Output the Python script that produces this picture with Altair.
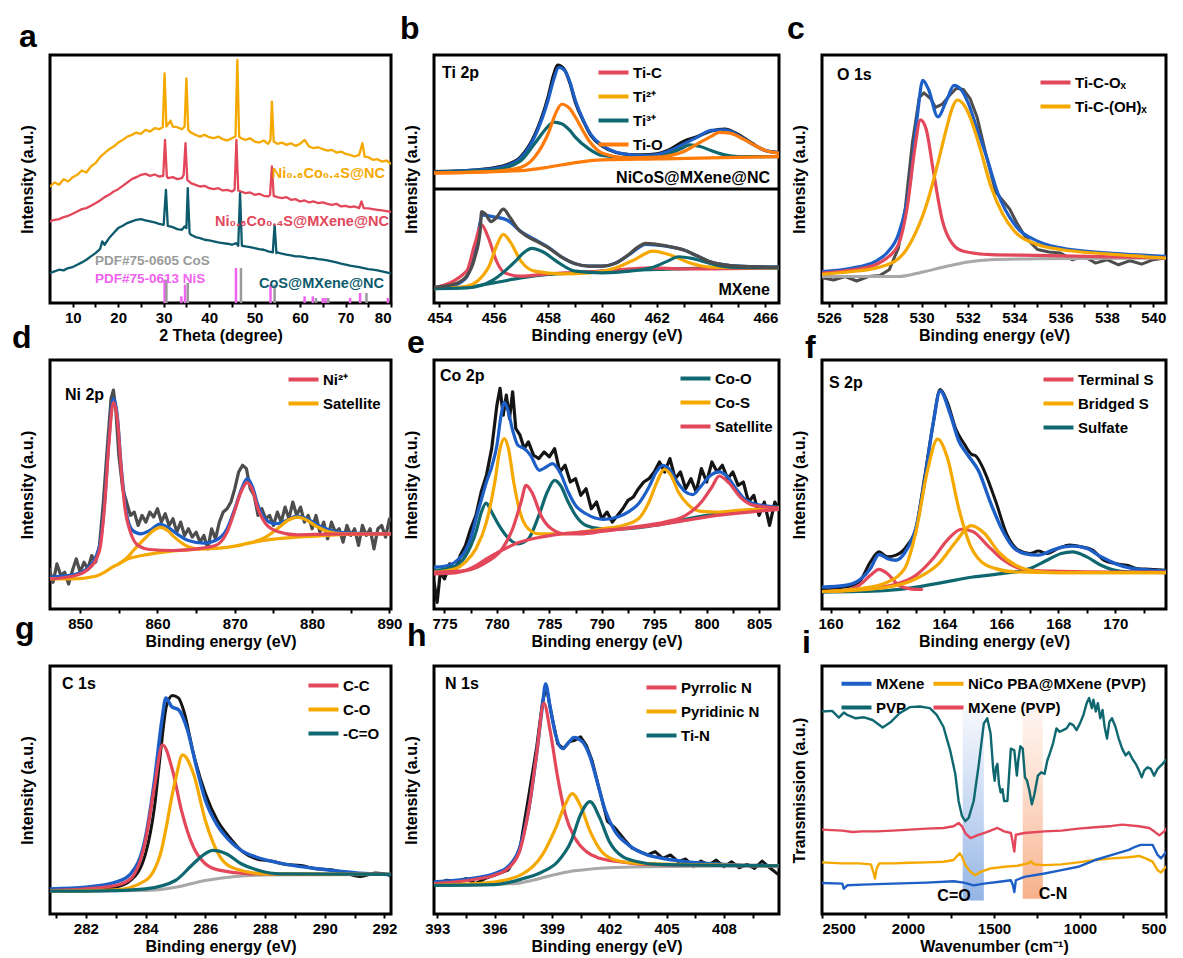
import altair as alt
import pandas as pd

FONT = "Liberation Sans"
RED = "#e2475a"
YEL = "#f5a800"
TEAL = "#0f6870"
ATEAL = "#0c5a6c"
BLUE = "#1d5fc6"
ORNG = "#ff7b0a"
DGRAY = "#4d4d4d"
INK = "#141414"
LGRAY = "#a8a8a8"
SGRAY = "#9a9a9a"
MAG = "#f062f0"

# ---------------- a : XRD (intensity in a.u., 0 = frame floor) ----------------
A_NC_X = [5, 6, 7, 8, 9, 10, 11, 12, 13, 14, 15, 16, 17, 18, 19, 20, 21, 22, 23, 24, 25, 26, 27, 28, 29,
          29.8, 30.2, 30.6, 31.5, 32, 33, 34, 34.6, 35.0, 35.4, 36, 37, 38, 39, 40, 41, 42, 43, 44, 45,
          45.8, 46.2, 46.6, 47, 48, 49, 50, 51, 52, 53, 53.5, 53.8, 54.2, 55, 56, 57, 58, 59, 60, 61, 62,
          63, 64, 65, 66, 67, 68, 69, 70, 71, 72, 73, 73.7, 74.2, 75, 76, 77, 78, 79, 80]
A_NC_Y = [350, 362, 355, 372, 365, 378, 385, 398, 392, 410, 420, 438, 450, 462, 470, 482, 490, 500, 505, 512, 508, 520, 515, 525, 522,
          528, 690, 530, 548, 530, 528, 522, 530, 675, 520, 512, 505, 500, 505, 498, 495, 500, 492, 488, 495,
          500, 730, 500, 495, 490, 495, 485, 482, 488, 478, 490, 605, 485, 478, 482, 475, 480, 472, 478, 490, 470,
          465, 468, 462, 458, 460, 452, 455, 448, 445, 440, 445, 480, 440, 438, 430, 432, 425, 428, 418]
A_MX_X = [5, 6, 7, 8, 9, 10, 11, 12, 13, 14, 15, 16, 17, 18, 19, 20, 21, 22, 23, 24, 25, 26, 27, 28, 29,
          29.9, 30.3, 30.7, 31, 32, 33, 34, 34.4, 34.8, 35.2, 36, 37, 38, 39, 40, 41, 42, 43, 44, 45,
          45.6, 46.0, 46.4, 47, 48, 49, 50, 51, 52, 53, 53.4, 53.8, 54.2, 55, 56, 57, 58, 59, 60, 61, 62,
          63, 64, 65, 66, 67, 68, 69, 70, 71, 72, 73, 73.5, 74, 75, 76, 77, 78, 79, 80]
A_MX_Y = [245, 250, 252, 258, 262, 268, 275, 282, 285, 292, 300, 308, 318, 325, 335, 342, 352, 362, 372, 378, 385, 388, 382, 386, 380,
          382, 490, 380, 375, 378, 372, 375, 385, 480, 370, 360, 355, 350, 352, 345, 342, 345, 338, 340, 335,
          340, 490, 338, 335, 330, 332, 325, 328, 322, 320, 325, 410, 322, 318, 315, 318, 310, 312, 305, 308, 302,
          305, 300, 302, 298, 295, 298, 290, 292, 288, 290, 285, 305, 285, 284, 282, 280, 278, 276, 274]
A_CO_X = [5, 6, 7, 8, 9, 10, 11, 12, 13, 14, 15, 16, 16.5, 17, 18, 19, 20, 21, 22, 23, 24, 25, 26, 27, 28, 29, 30,
          30.5, 30.9, 32, 33, 34, 34.6, 35.0, 35.3, 35.7, 36, 37, 38, 39, 40, 41, 42, 43, 44, 45, 46,
          46.4, 46.8, 47.2, 48, 49, 50, 51, 52, 53, 54, 54.4, 54.8, 55, 56, 57, 58, 59, 60, 61, 62, 63, 64,
          65, 66, 67, 68, 69, 70, 71, 72, 73, 74, 75, 76, 77, 78, 79, 80]
A_CO_Y = [90, 95, 100, 98, 105, 108, 115, 122, 130, 140, 150, 162, 185, 175, 195, 210, 225, 232, 240, 245, 250, 252, 248, 245, 242, 238, 235,
          340, 232, 228, 222, 220, 230, 225, 345, 210, 205, 198, 195, 190, 188, 185, 182, 180, 178, 175, 180,
          172, 330, 172, 170, 168, 165, 162, 160, 155, 152, 235, 150, 152, 148, 145, 143, 140, 140, 138, 135, 135, 132,
          130, 128, 125, 122, 118, 115, 112, 110, 108, 105, 102, 100, 98, 95, 92, 88]
COS_X = [30.6, 35.3, 47.0, 54.4, 63.5, 66.2, 74.6]
COS_H = [70, 60, 105, 55, 15, 15, 30]
NIS_X = [30.2, 33.9, 34.7, 45.9, 53.5, 61.0, 62.8, 65.0, 65.6, 71.0, 73.2, 79.3]
NIS_H = [70, 20, 55, 105, 55, 20, 20, 15, 15, 15, 30, 15]

# ---------------- b : Ti 2p (readings taken downward, floor 895) ----------------
B_FLOOR = 895
B_DIV = 340
BU_ENV_X = [453.8, 455, 456, 456.5, 457, 457.5, 458, 458.2, 458.4, 458.6, 458.8, 459, 459.3, 459.6, 460, 460.5, 461, 461.5, 462, 462.5, 463, 463.5, 464, 464.5, 465, 465.5, 466, 466.5]
BU_ENV_R = [505, 500, 494, 485, 462, 400, 290, 230, 192, 200, 235, 290, 350, 395, 425, 445, 452, 455, 452, 440, 420, 400, 380, 378, 395, 420, 440, 447]
BU_RAW_X = [453.8, 455, 456, 456.5, 457, 457.5, 458, 458.2, 458.35, 458.6, 458.8, 459, 459.3, 459.6, 460, 460.5, 461, 461.5, 462, 462.5, 463, 463.5, 464, 464.5, 465, 465.5, 466, 466.5]
BU_RAW_R = [503, 500, 492, 482, 458, 395, 280, 215, 185, 198, 238, 295, 352, 398, 427, 446, 452, 453, 450, 436, 412, 398, 382, 376, 392, 418, 440, 446]
BU_TI3_X = [453.8, 456, 457, 457.5, 458, 458.2, 458.5, 458.8, 459, 459.5, 460, 461, 462, 462.5, 463, 463.2, 463.6, 464, 464.5, 465, 466.5]
BU_TI3_R = [505, 498, 470, 420, 368, 355, 360, 380, 400, 435, 455, 462, 460, 448, 430, 423, 428, 440, 453, 458, 458]
BU_TIO_X = [453.8, 456, 457, 457.5, 458, 458.3, 458.5, 458.8, 459, 459.5, 460, 461, 462, 463, 463.5, 464, 464.3, 464.7, 465, 465.5, 466, 466.5]
BU_TIO_R = [507, 502, 490, 460, 390, 325, 302, 315, 340, 410, 448, 462, 460, 443, 420, 398, 386, 388, 398, 420, 440, 448]
BU_BASE_X = [453.8, 457, 458, 459, 460, 462, 464, 466.5]
BU_BASE_R = [507, 500, 490, 476, 468, 465, 462, 458]
BL_RAW_X = [453.8, 454.5, 455, 455.3, 455.5, 455.55, 455.7, 455.9, 456.1, 456.35, 456.6, 456.9, 457.2, 457.6, 458, 458.5, 459, 459.5, 460, 460.5, 461, 461.3, 461.6, 462, 462.5, 463, 463.5, 464, 465, 466.5]
BL_RAW_R = [848, 840, 815, 760, 680, 622, 630, 652, 640, 615, 640, 675, 695, 712, 730, 758, 778, 785, 785, 776, 748, 728, 717, 720, 727, 737, 755, 773, 785, 788]
BL_ENV_X = [453.8, 454.5, 455, 455.3, 455.6, 456, 456.5, 457, 457.5, 458, 458.5, 459, 459.5, 460, 460.5, 461, 461.6, 462.3, 463, 463.5, 464, 465, 466.5]
BL_ENV_R = [850, 843, 818, 740, 633, 638, 648, 682, 705, 728, 758, 778, 785, 785, 775, 750, 720, 725, 737, 755, 773, 785, 788]
BL_TIC_X = [453.8, 455, 455.3, 455.55, 455.8, 456.1, 456.4, 457, 458, 460, 461.8, 463, 466.5]
BL_TIC_R = [850, 800, 720, 662, 700, 770, 805, 815, 808, 800, 790, 793, 790]
BL_TI2_X = [453.8, 455, 455.8, 456.1, 456.35, 456.6, 457, 457.5, 458.5, 459.5, 460.5, 461.2, 461.85, 462.5, 463.2, 464, 466.5]
BL_TI2_R = [852, 845, 790, 725, 690, 712, 770, 800, 808, 805, 790, 765, 740, 752, 775, 788, 790]
BL_TI3_X = [453.8, 455, 456, 456.8, 457.1, 457.4, 457.8, 458.3, 459, 460, 461, 461.8, 462.4, 462.8, 463.3, 464, 464.7, 466.5]
BL_TI3_R = [852, 850, 825, 770, 745, 732, 742, 770, 800, 805, 800, 790, 770, 757, 762, 778, 788, 790]
BL_BASE_X = [453.8, 455, 456, 457, 458, 459, 460, 462, 464, 466.5]
BL_BASE_R = [852, 848, 835, 820, 810, 805, 800, 795, 790, 788]

# ---------------- c : O 1s (floor 893) ----------------
C_FLOOR = 893
C_RAW_X = [525.7, 526.2, 526.7, 527.2, 527.7, 528.2, 528.6, 529, 529.3, 529.6, 529.9, 530.1, 530.4, 530.6, 530.9, 531.2, 531.5, 531.8, 532.1, 532.4, 532.8, 533.2, 533.5, 533.8, 534.1, 534.5, 535, 535.5, 536, 536.5, 537, 537.5, 538, 538.5, 539, 539.5, 540, 540.5]
C_RAW_R = [818, 825, 815, 828, 815, 812, 795, 730, 610, 420, 285, 272, 290, 315, 305, 280, 258, 262, 290, 345, 460, 565, 590, 615, 655, 700, 735, 742, 745, 765, 755, 775, 765, 780, 768, 778, 765, 760]
C_ENV_X = [525.7, 527, 528, 528.5, 529, 529.5, 529.8, 530.05, 530.3, 530.7, 531.1, 531.4, 531.7, 532.0, 532.4, 532.8, 533.3, 534, 535, 536, 538, 540.5]
C_ENV_R = [800, 790, 770, 745, 690, 540, 350, 235, 262, 343, 290, 250, 262, 300, 380, 460, 570, 660, 710, 730, 745, 755]
C_OX_X = [525.7, 527, 528, 528.5, 529, 529.4, 529.7, 529.95, 530.2, 530.5, 530.9, 531.3, 531.8, 533, 535, 540.5]
C_OX_R = [805, 795, 780, 760, 720, 600, 440, 352, 380, 500, 650, 715, 740, 750, 752, 760]
C_OH_X = [525.7, 527, 528, 529, 529.6, 530.2, 530.7, 531.1, 531.35, 531.55, 531.8, 532.1, 532.5, 533, 533.5, 534, 535, 536, 538, 540.5]
C_OH_R = [808, 800, 790, 762, 705, 605, 480, 370, 312, 293, 305, 345, 430, 550, 630, 680, 720, 735, 748, 760]
C_BASE_X = [525.7, 529, 530, 531, 532, 533, 535, 540.5]
C_BASE_R = [815, 815, 802, 786, 772, 765, 762, 760]

# ---------------- d : Ni 2p (floor 880) ----------------
D_FLOOR = 880
D_RAW_X = [846, 846.5, 847, 847.5, 848, 848.5, 849, 849.5, 850, 850.5, 851, 851.5, 852, 852.5, 853, 853.5, 854, 854.3, 854.6,
           855, 855.5, 856, 856.5, 857, 857.5, 858, 858.5, 859, 859.5, 860, 860.5, 861, 861.5, 862, 862.5, 863, 863.5, 864, 864.5,
           865, 865.5, 866, 866.5, 867, 867.5, 868, 868.5, 869, 869.5, 870, 870.5, 871, 871.5, 872, 872.5, 873, 873.5, 874, 874.5,
           875, 875.5, 876, 876.5, 877, 877.5, 878, 878.5, 879, 879.5, 880, 880.5, 881, 881.5, 882, 882.5, 883, 883.5, 884, 884.5,
           885, 885.5, 886, 886.5, 887, 887.5, 888, 888.5, 889, 889.5, 890]
D_RAW_R = [760, 800, 745, 780, 770, 805, 765, 730, 770, 740, 760, 720, 740, 690, 560, 400, 250, 225, 280,
           420, 520, 560, 600, 590, 630, 600, 620, 590, 605, 580, 620, 595, 630, 610, 650, 620, 660, 640, 665,
           650, 680, 660, 700, 640, 670, 620, 590, 580, 560, 520, 470, 450, 460, 520, 540, 600, 580, 610, 600,
           630, 590, 620, 575, 610, 560, 600, 575, 620, 600, 640, 600, 650, 620, 670, 620, 650, 640, 680, 630,
           660, 640, 690, 630, 660, 640, 700, 640, 630, 665, 610]
D_ENV_X = [846.1, 849, 851, 852.5, 853.2, 853.7, 854.3, 854.8, 855.3, 856, 856.8, 857.8, 859, 860.3, 861.5, 862.5, 864, 866, 867.5, 869, 870, 870.8, 871.6, 872.3, 873, 874, 875.3, 876.5, 878, 879.5, 881, 883, 885, 890.2]
D_ENV_R = [785, 778, 757, 692, 550, 380, 250, 300, 450, 595, 645, 655, 645, 626, 638, 655, 675, 683, 675, 640, 580, 525, 490, 515, 570, 612, 625, 617, 602, 612, 632, 648, 653, 655]
D_NI_X = [846.1, 849, 851, 852.5, 853.2, 853.7, 854.3, 854.8, 855.3, 855.8, 856.5, 857.5, 859, 862, 865, 867.5, 869, 870, 870.8, 871.6, 872.3, 873, 874, 875.5, 878, 882, 890.2]
D_NI_R = [790, 782, 762, 705, 560, 390, 262, 310, 460, 580, 650, 690, 702, 705, 700, 690, 650, 585, 530, 502, 525, 580, 625, 648, 658, 656, 655]
D_SAT1_X = [855, 856, 857, 858.5, 859.5, 860.4, 861.3, 862.2, 863.5, 865]
D_SAT1_R = [745, 728, 702, 666, 645, 636, 645, 665, 688, 700]
D_SAT2_X = [872, 874, 875.5, 877, 878.1, 879.3, 880.5, 882, 884, 886]
D_SAT2_R = [682, 665, 640, 613, 605, 614, 632, 648, 655, 656]
D_BASE_X = [846.1, 849, 852, 853, 854, 855, 856, 858, 860, 862, 865, 868, 870, 872, 875, 878, 882, 885, 890.2]
D_BASE_R = [790, 790, 782, 772, 757, 745, 732, 720, 712, 706, 701, 698, 692, 682, 671, 665, 660, 656, 655]

# ---------------- e : Co 2p (floor 880) ----------------
E_FLOOR = 880
E_RAW_X = [774.0, 774.3, 774.6, 775.0, 775.5, 776.0, 776.5, 777.0, 777.5, 778.0, 778.5, 779.0, 779.5, 780.0,
           780.3, 780.6, 780.9, 781.2, 781.5, 781.8, 782.2, 782.6,
           783.0, 783.5, 784.0, 784.5, 785.0, 785.5, 786.0, 786.5, 787.0, 787.5,
           788.0, 788.5, 789.0, 789.5, 790.0, 790.5, 791.0, 791.5, 792.0, 792.5,
           793.0, 793.5, 794.0, 794.5, 795.0, 795.5, 796.0, 796.5, 797.0, 797.5,
           798.0, 798.5, 799.0, 799.5, 800.0, 800.5, 801.0, 801.5, 802.0, 802.5,
           803.0, 803.5, 804.0, 804.5, 805.0, 805.5, 806.0, 806.5, 806.9]
E_RAW_R = [800, 860, 770, 790, 745, 770, 720, 690, 640, 600, 530, 480, 400, 270,
           220, 300, 240, 310, 230, 340, 360, 400,
           380, 420, 430, 410, 425, 400, 470, 450, 500, 490,
           540, 520, 580, 560, 610, 590, 620, 600, 580, 555,
           545, 520, 500, 490, 470, 440, 470, 430, 490, 470,
           520, 490, 530, 460, 500, 440, 470, 450, 490, 470,
           510, 500, 560, 540, 600, 560, 630, 560, 580]
E_ENV_X = [774.0, 775.0, 776.0, 777.0, 777.5, 778.0, 778.5, 779.0, 779.5, 780.0, 780.4, 780.7, 781.0, 781.5, 782.0, 782.6, 783.2, 784.05, 784.7, 785.3, 786.0, 786.8, 787.5, 788.5, 790.2, 791.5, 792.5, 793.5, 794.5, 795.2, 795.8, 796.4, 797.2, 798.0, 798.65, 799.4, 800.2, 801.2, 802.0, 802.8, 803.6, 804.5, 806.9]
E_ENV_R = [755, 752, 740, 705, 670, 610, 555, 500, 455, 390, 300, 262, 280, 345, 390, 400, 420, 465, 455, 445, 470, 530, 570, 595, 612, 605, 590, 565, 515, 470, 450, 460, 500, 530, 538, 515, 485, 470, 485, 520, 550, 565, 575]
E_COS_X = [774, 776, 777, 778, 779, 779.8, 780.3, 780.7, 781.1, 781.6, 782.2, 783, 784, 786, 788, 790, 792, 793.5, 794.5, 795.2, 795.95, 796.6, 797.3, 798.3, 799.5, 801, 803, 806.9]
E_COS_R = [770, 760, 740, 700, 620, 500, 400, 370, 400, 500, 590, 640, 655, 655, 650, 640, 630, 610, 560, 505, 462, 480, 530, 570, 588, 590, 585, 578]
E_COO_X = [774, 776, 777, 778, 778.5, 778.97, 779.5, 780.2, 781, 782, 783, 784, 784.8, 785.5, 786.1, 786.8, 787.5, 788.5, 790, 792, 795, 800, 806.9]
E_COO_R = [765, 752, 722, 650, 592, 563, 590, 630, 665, 685, 670, 600, 530, 495, 512, 560, 600, 630, 640, 640, 630, 600, 575]
E_SAT_X = [774, 777, 779, 780.5, 781.5, 782.3, 782.78, 783.4, 784.2, 785.2, 786.5, 788, 790, 793, 796, 798, 799.5, 800.5, 801.2, 802.1, 803.2, 804.5, 806.9]
E_SAT_R = [770, 765, 740, 700, 640, 560, 510, 535, 600, 640, 655, 655, 648, 635, 620, 600, 560, 515, 482, 502, 545, 570, 578]
E_BASE_X = [774, 776, 777, 778, 779, 780, 781, 782, 784, 786, 788, 790, 792, 795, 798, 801, 804, 806.9]
E_BASE_R = [775, 772, 765, 750, 730, 712, 696, 682, 666, 656, 650, 645, 640, 630, 615, 600, 590, 582]

# ---------------- f : S 2p (floor 880) ----------------
F_FLOOR = 880
F_RAW_X = [159.7, 160.5, 161.0, 161.4, 161.7, 162.0, 162.3, 162.7, 163.0, 163.3, 163.6, 163.85, 164.1, 164.4, 164.7, 164.95, 165.1, 165.4, 165.8, 166.2, 166.6, 167.0, 167.3, 167.6, 168.0, 168.4, 168.8, 169.2, 169.6, 170.0, 170.4, 170.8, 171.2, 171.78]
F_RAW_R = [820, 815, 800, 740, 710, 725, 720, 690, 640, 490, 330, 228, 265, 345, 390, 420, 425, 470, 560, 660, 705, 715, 708, 715, 700, 690, 695, 705, 735, 745, 750, 760, 762, 765]
F_ENV_X = [159.7, 160.5, 161.0, 161.4, 161.7, 162.0, 162.3, 162.7, 163.0, 163.3, 163.6, 163.85, 164.2, 164.5, 164.8, 165.2, 165.6, 166.0, 166.4, 166.8, 167.3, 167.8, 168.2, 168.5, 169.0, 169.5, 170.0, 170.5, 171.0, 171.78]
F_ENV_R = [815, 810, 795, 760, 718, 730, 735, 700, 640, 500, 330, 232, 300, 380, 420, 470, 560, 640, 695, 715, 720, 705, 695, 693, 700, 725, 745, 758, 763, 767]
F_T1_X = [159.7, 160.5, 161.0, 161.4, 161.7, 162.0, 162.4, 162.8, 163.2]
F_T1_R = [828, 825, 810, 780, 762, 775, 810, 820, 822]
F_T2_X = [160, 161, 162, 163, 163.6, 164.1, 164.6, 165.0, 165.5, 166.0, 166.5, 167, 168, 170, 171.78]
F_T2_R = [828, 822, 812, 780, 730, 675, 643, 650, 690, 730, 755, 765, 768, 770, 770]
F_B1_X = [159.7, 161, 162, 162.6, 163.0, 163.4, 163.76, 164.1, 164.5, 164.9, 165.3, 165.8, 166.5, 168, 171.78]
F_B1_R = [828, 820, 800, 760, 650, 470, 375, 430, 580, 690, 740, 760, 770, 772, 772]
F_B2_X = [160, 162, 163, 163.8, 164.4, 164.94, 165.4, 165.9, 166.5, 167.2, 168, 171.78]
F_B2_R = [828, 815, 790, 745, 680, 632, 655, 710, 750, 768, 772, 772]
F_SU_X = [159.7, 161, 162, 163, 164, 165, 166, 167, 167.6, 168.1, 168.5, 169.0, 169.5, 170.2, 171.78]
F_SU_R = [830, 828, 825, 815, 800, 785, 775, 760, 735, 715, 710, 725, 750, 768, 772]

# ---------------- g : C 1s (floor 880) ----------------
G_FLOOR = 880
G_RAW_X = [280.8, 282, 283, 283.5, 284, 284.3, 284.5, 284.7, 284.9, 285.1, 285.3, 285.6, 286.0, 286.4, 286.8, 287.2, 287.7, 288.2, 288.7, 289.2, 289.7, 290.2, 290.7, 291.2, 291.7, 292.2]
G_RAW_R = [812, 810, 800, 780, 700, 560, 400, 260, 228, 235, 280, 400, 520, 600, 650, 690, 715, 722, 732, 735, 745, 748, 758, 768, 758, 765]
G_ENV_X = [280.8, 282, 283, 283.5, 284.0, 284.3, 284.55, 284.68, 284.88, 285.1, 285.4, 285.7, 286.0, 286.4, 286.8, 287.2, 287.7, 288.5, 289.5, 290.5, 291.5, 292.2]
G_ENV_R = [805, 800, 785, 760, 650, 480, 300, 235, 262, 270, 330, 440, 540, 615, 660, 690, 710, 728, 742, 752, 760, 762]
G_CC_X = [280.8, 282, 283, 283.5, 284.0, 284.3, 284.57, 284.9, 285.2, 285.6, 286.0, 286.5, 287.5, 292.2]
G_CC_R = [810, 805, 795, 775, 660, 500, 375, 450, 570, 680, 730, 750, 760, 762]
G_CO_X = [280.8, 283, 284, 284.5, 285.0, 285.24, 285.6, 286.0, 286.5, 287, 288, 292.2]
G_CO_R = [812, 808, 780, 700, 480, 405, 460, 600, 710, 745, 760, 762]
G_CEO_X = [280.8, 283, 284, 285, 285.6, 286.0, 286.25, 286.7, 287.2, 287.8, 288.5, 292.2]
G_CEO_R = [812, 810, 805, 780, 730, 700, 690, 700, 730, 750, 760, 762]
G_BASE_X = [280.8, 284, 285, 286, 287, 288, 292.2]
G_BASE_R = [812, 810, 800, 780, 768, 764, 762]

# ---------------- h : N 1s (floor 875) ----------------
H_FLOOR = 875
H_RAW_X = [392.8, 393.5, 394, 394.5, 395, 395.5, 396, 396.7, 397.3, 397.8, 398.2, 398.5, 398.7, 399.0, 399.3, 399.6, 399.9, 400.2, 400.5, 400.8, 401.1, 401.5, 401.9, 402.3, 402.8, 403.2, 403.6, 404, 404.4, 404.8, 405.2, 405.6, 406, 406.4, 406.8, 407.2, 407.6, 408, 408.4, 408.8, 409.2, 409.6, 410, 410.4, 410.88]
H_RAW_R = [790, 775, 780, 770, 785, 770, 760, 745, 690, 520, 380, 250, 200, 290, 370, 385, 365, 360, 350, 375, 420, 510, 600, 620, 655, 680, 690, 700, 690, 710, 700, 720, 712, 735, 718, 730, 715, 735, 720, 738, 728, 740, 718, 738, 760]
H_ENV_X = [392.8, 394, 395, 396, 396.7, 397.3, 397.8, 398.2, 398.5, 398.67, 398.9, 399.2, 399.54, 399.9, 400.15, 400.6, 401.0, 401.4, 401.8, 402.3, 403, 404, 405, 406, 408, 410.88]
H_ENV_R = [780, 775, 768, 755, 735, 680, 560, 400, 260, 193, 260, 345, 385, 365, 352, 365, 410, 490, 570, 630, 670, 700, 712, 720, 728, 732]
H_PYR_X = [392.8, 394, 395, 396, 396.7, 397.3, 397.8, 398.2, 398.58, 398.9, 399.3, 399.7, 400.2, 400.8, 401.5, 402.5, 404, 410.88]
H_PYR_R = [785, 780, 772, 760, 740, 690, 560, 400, 250, 330, 470, 580, 650, 690, 710, 720, 728, 732]
H_PYD_X = [392.8, 395, 396.5, 397.5, 398.5, 399.2, 399.7, 400.06, 400.5, 401.0, 401.6, 402.3, 403.5, 410.88]
H_PYD_R = [790, 785, 775, 755, 700, 620, 550, 518, 555, 630, 690, 715, 725, 732]
H_TIN_X = [392.8, 396, 397.5, 398.5, 399.3, 400.0, 400.5, 400.99, 401.5, 402.0, 402.7, 403.5, 404.5, 410.88]
H_TIN_R = [790, 788, 770, 750, 720, 660, 580, 542, 590, 660, 705, 720, 728, 732]
H_BASE_X = [392.8, 397, 398, 399, 400, 401, 402, 404, 410.88]
H_BASE_R = [790, 785, 775, 760, 748, 742, 738, 735, 732]

# ---------------- i : FTIR (transmission, a.u. above frame floor) ----------------
I_PVP_X = [2500, 2441, 2402, 2373, 2353, 2304, 2255, 2206, 2147, 2098, 2049, 1990, 1931, 1873, 1833, 1794, 1755, 1725, 1706, 1686,
           1667, 1647, 1618, 1588, 1559, 1539, 1520, 1504, 1496, 1488, 1480, 1471, 1461, 1451, 1441, 1422, 1412, 1402, 1382, 1367,
           1359, 1347, 1333, 1320, 1308, 1294, 1280, 1265, 1245, 1225, 1206, 1190, 1176, 1157, 1137, 1118, 1098, 1078, 1059, 1039,
           1020, 1000, 980, 961, 947, 931, 922, 908, 896, 882, 869, 857, 843, 829, 814, 794, 775, 755, 735, 716,
           696, 676, 657, 641, 627, 608, 588, 569, 549, 520, 500]
I_PVP_Y = [600, 602, 582, 597, 590, 580, 583, 575, 553, 570, 595, 613, 615, 610, 590, 555, 485, 415, 335, 290,
           275, 285, 335, 445, 565, 580, 535, 425, 395, 435, 445, 385, 360, 370, 335, 335, 415, 490, 485, 410,
           455, 497, 490, 405, 395, 365, 325, 355, 410, 420, 415, 455, 475, 505, 550, 540, 545, 550, 565, 560,
           545, 565, 590, 625, 640, 610, 635, 600, 625, 580, 605, 555, 520, 570, 580, 555, 520, 490, 470, 480,
           460, 445, 425, 405, 425, 435, 430, 410, 430, 445, 457]
I_RED_X = [2500, 2382, 2324, 2265, 2186, 2088, 1990, 1892, 1794, 1735, 1706, 1686, 1667, 1637, 1598, 1559, 1520, 1480, 1441, 1402, 1392, 1382, 1373, 1324, 1206, 1108, 1010, 912, 814, 755, 657, 598, 569, 539, 510, 500]
I_RED_Y = [250, 247, 243, 245, 245, 247, 250, 253, 255, 260, 270, 260, 240, 225, 233, 240, 247, 255, 245, 240, 215, 185, 235, 240, 245, 247, 253, 257, 261, 265, 260, 255, 245, 233, 245, 253]
I_YEL_X = [2500, 2382, 2284, 2216, 2202, 2192, 2182, 2167, 2088, 1990, 1892, 1794, 1735, 1700, 1686, 1667, 1637, 1608, 1578, 1520, 1441, 1363, 1304, 1284, 1265, 1206, 1108, 1010, 912, 814, 716, 657, 618, 578, 549, 529, 500]
I_YEL_Y = [153, 150, 150, 147, 125, 105, 135, 150, 150, 152, 153, 155, 160, 180, 170, 145, 125, 115, 125, 135, 140, 143, 150, 155, 147, 145, 147, 153, 160, 165, 168, 172, 165, 155, 130, 123, 140]
I_BLU_X = [2500, 2382, 2373, 2353, 2265, 2088, 1892, 1735, 1676, 1618, 1559, 1480, 1402, 1390, 1382, 1373, 1324, 1206, 1108, 1010, 912, 814, 716, 676, 647, 578, 549, 529, 500]
I_BLU_Y = [92, 90, 75, 85, 87, 90, 93, 97, 93, 85, 90, 95, 100, 85, 65, 100, 110, 120, 130, 140, 160, 175, 190, 200, 205, 205, 175, 165, 183]
I_BAND_FROM = [1682, 1333]
I_BAND_TO = [1559, 1216]
I_BAND_LOW = [40, 45]
I_BAND_HIGH = [605, 615]

# ---------------------------------------------------------------------------
W1, W2, W3 = 341, 345, 344
H1, H2, H3 = 248, 249, 248
ONE = pd.DataFrame({"k": [0]})


def lv(readings, floor):
    """convert readings taken downward on the picture into a.u. above the floor"""
    return [floor - r for r in readings]


def table(*series):
    rows = []
    for name, part, xs, ys in series:
        if len(xs) != len(ys):
            raise ValueError(f"{name}/{part}: {len(xs)} vs {len(ys)}")
        for i, (x, y) in enumerate(zip(xs, ys)):
            rows.append({"x": x, "y": y, "s": name, "g": part, "i": i})
    return pd.DataFrame(rows)


def xenc(dom, title, vals, mod, reverse=False):
    return alt.X("x:Q", scale=alt.Scale(domain=dom, nice=False, zero=False, reverse=reverse),
                 axis=alt.Axis(title=title, values=vals, format="d", titlePadding=2,
                               labelExpr=f"datum.value % {mod} == 0 ? datum.label : ''"))


def yenc(top, title="Intensity (a.u.)"):
    return alt.Y("y:Q", scale=alt.Scale(domain=[0, top], nice=False, zero=False),
                 axis=alt.Axis(title=title, labels=False, ticks=False, domain=False, grid=False, titlePadding=15))


def trace(df, X, Y, color, width=3.2, interp="monotone"):
    return alt.Chart(df).mark_line(color=color, strokeWidth=width, interpolate=interp, clip=True,
                                   strokeJoin="round", strokeCap="round").encode(
        x=X, y=Y, detail="g:N", order="i:Q")


def parts(df, X, Y, names, colors, lx, ly, width=3.2, interp="monotone", columns=None):
    leg = dict(title=None, orient="none", legendX=lx, legendY=ly)
    if columns:
        leg.update(columns=columns, columnPadding=0)
    return alt.Chart(df).mark_line(strokeWidth=width, interpolate=interp, clip=True,
                                   strokeJoin="round", strokeCap="round").encode(
        x=X, y=Y, detail="g:N", order="i:Q",
        color=alt.Color("s:N", scale=alt.Scale(domain=names, range=colors), legend=alt.Legend(**leg)))


def note(text, x, y, size=16, color="black", align="left"):
    return alt.Chart(ONE).mark_text(text=text, align=align, baseline="alphabetic", font=FONT,
                                    fontSize=size, fontWeight="bold", color=color).encode(
        x=alt.value(x), y=alt.value(y))


def tag(letter, x, y):
    return note(letter, x, y, size=32)


# ---------------- panel a ----------------
Xa = xenc([5, 80], "2 Theta (degree)", [10, 15, 20, 25, 30, 35, 40, 45, 50, 55, 60, 65, 70, 75, 80], 10)
Ya = yenc(745)
a_nc = table(("nc", 0, A_NC_X, A_NC_Y))
a_mx = table(("mx", 0, A_MX_X, A_MX_Y))
a_co = table(("co", 0, A_CO_X, A_CO_Y))
cos = pd.DataFrame({"x": COS_X, "y": [0] * len(COS_X), "y2": COS_H})
nis = pd.DataFrame({"x": NIS_X, "y": [0] * len(NIS_X), "y2": NIS_H})
pa = alt.layer(
    alt.Chart(nis).mark_rule(color=MAG, strokeWidth=2.5).encode(x=Xa, y=Ya, y2="y2:Q"),
    alt.Chart(cos).mark_rule(color=SGRAY, strokeWidth=2.5).encode(x=Xa, y=Ya, y2="y2:Q"),
    trace(a_nc, Xa, Ya, YEL, 2.3, "linear"),
    trace(a_mx, Xa, Ya, RED, 2.3, "linear"),
    trace(a_co, Xa, Ya, ATEAL, 2.3, "linear"),
    note("Ni₀.₆Co₀.₄S@NC", 335, 123, 14.5, YEL, "right"),
    note("Ni₀.₆Co₀.₄S@MXene@NC", 339, 171, 14.5, RED, "right"),
    note("CoS@MXene@NC", 334, 233, 14.5, ATEAL, "right"),
    note("PDF#75-0605 CoS", 45, 210, 13.5, SGRAY),
    note("PDF#75-0613 NiS", 45, 228, 13.5, MAG),
    tag("a", -31, -8),
).properties(width=W1, height=H1)

# ---------------- panel b ----------------
Xb = xenc([453.8, 466.5], "Binding energy (eV)", list(range(454, 467)), 2)
Yb = yenc(740)
b_raw_up = table(("r", 0, BU_RAW_X, lv(BU_RAW_R, B_FLOOR)))
b_env = table(("e", 0, BU_ENV_X, lv(BU_ENV_R, B_FLOOR)), ("e", 1, BL_ENV_X, lv(BL_ENV_R, B_FLOOR)))
b_raw_lo = table(("r", 1, BL_RAW_X, lv(BL_RAW_R, B_FLOOR)))
b_comp = table(
    ("Ti³⁺", "u3", BU_TI3_X, lv(BU_TI3_R, B_FLOOR)),
    ("Ti-O", "ub", BU_BASE_X, lv(BU_BASE_R, B_FLOOR)),
    ("Ti-O", "uo", BU_TIO_X, lv(BU_TIO_R, B_FLOOR)),
    ("Ti³⁺", "lb", BL_BASE_X, lv(BL_BASE_R, B_FLOOR)),
    ("Ti-C", "lc", BL_TIC_X, lv(BL_TIC_R, B_FLOOR)),
    ("Ti²⁺", "l2", BL_TI2_X, lv(BL_TI2_R, B_FLOOR)),
    ("Ti³⁺", "l3", BL_TI3_X, lv(BL_TI3_R, B_FLOOR)),
)
div = pd.DataFrame({"y": [B_DIV]})
pb = alt.layer(
    trace(b_raw_up, Xb, Yb, INK, 3.2),
    trace(b_env, Xb, Yb, BLUE, 3.2),
    parts(b_comp, Xb, Yb, ["Ti-C", "Ti²⁺", "Ti³⁺", "Ti-O"], [RED, YEL, TEAL, ORNG], 170, 8),
    trace(b_raw_lo, Xb, Yb, DGRAY, 3.2),
    alt.Chart(div).mark_rule(color="black", strokeWidth=3).encode(y=Yb),
    note("Ti 2p", 8, 23),
    note("NiCoS@MXene@NC", 336, 128, 16, "black", "right"),
    note("MXene", 336, 240, 16, "black", "right"),
    tag("b", -34, -16),
).properties(width=W2, height=H1)

# ---------------- panel c ----------------
Xc = xenc([525.7, 540.55], "Binding energy (eV)", list(range(526, 541)), 2)
Yc = yenc(733)
c_raw = table(("r", 0, C_RAW_X, lv(C_RAW_R, C_FLOOR)))
c_env = table(("e", 0, C_ENV_X, lv(C_ENV_R, C_FLOOR)))
c_base = table(("b", 0, C_BASE_X, lv(C_BASE_R, C_FLOOR)))
c_comp = table(("Ti-C-Oₓ", 0, C_OX_X, lv(C_OX_R, C_FLOOR)), ("Ti-C-(OH)ₓ", 1, C_OH_X, lv(C_OH_R, C_FLOOR)))
pc = alt.layer(
    trace(c_raw, Xc, Yc, DGRAY, 3.0, "linear"),
    trace(c_base, Xc, Yc, LGRAY, 3.0),
    trace(c_env, Xc, Yc, BLUE, 3.2),
    parts(c_comp, Xc, Yc, ["Ti-C-Oₓ", "Ti-C-(OH)ₓ"], [RED, YEL], 224, 18),
    note("O 1s", 15, 25),
    tag("c", -35, -16),
).properties(width=W3, height=H1)

# ---------------- panel d ----------------
Xd = xenc([846.1, 890.2], "Binding energy (eV)", [850, 855, 860, 865, 870, 875, 880, 885, 890], 10)
Yd = yenc(745)
d_raw = table(("r", 0, D_RAW_X, lv(D_RAW_R, D_FLOOR)))
d_env = table(("e", 0, D_ENV_X, lv(D_ENV_R, D_FLOOR)))
d_comp = table(
    ("Satellite", "b", D_BASE_X, lv(D_BASE_R, D_FLOOR)),
    ("Satellite", "s1", D_SAT1_X, lv(D_SAT1_R, D_FLOOR)),
    ("Satellite", "s2", D_SAT2_X, lv(D_SAT2_R, D_FLOOR)),
    ("Ni²⁺", "n", D_NI_X, lv(D_NI_R, D_FLOOR)),
)
pd_ = alt.layer(
    trace(d_raw, Xd, Yd, DGRAY, 3.2, "linear"),
    trace(d_env, Xd, Yd, BLUE, 3.2),
    parts(d_comp, Xd, Yd, ["Ni²⁺", "Satellite"], [RED, YEL], 244, 10),
    note("Ni 2p", 15, 40),
    tag("d", -38, -12),
).properties(width=W1, height=H2)

# ---------------- panel e ----------------
Xe = xenc([774.0, 806.9], "Binding energy (eV)",
          [775, 777.5, 780, 782.5, 785, 787.5, 790, 792.5, 795, 797.5, 800, 802.5, 805], 5)
Ye = yenc(745)
e_raw = table(("r", 0, E_RAW_X, lv(E_RAW_R, E_FLOOR)))
e_env = table(("e", 0, E_ENV_X, lv(E_ENV_R, E_FLOOR)))
e_comp = table(
    ("Co-O", "o", E_COO_X, lv(E_COO_R, E_FLOOR)),
    ("Co-S", "s", E_COS_X, lv(E_COS_R, E_FLOOR)),
    ("Satellite", "t", E_SAT_X, lv(E_SAT_R, E_FLOOR)),
    ("Satellite", "b", E_BASE_X, lv(E_BASE_R, E_FLOOR)),
)
pe = alt.layer(
    trace(e_raw, Xe, Ye, INK, 3.2, "linear"),
    trace(e_env, Xe, Ye, BLUE, 3.2),
    parts(e_comp, Xe, Ye, ["Co-O", "Co-S", "Satellite"], [TEAL, YEL, RED], 252, 9),
    note("Co 2p", 6, 21),
    tag("e", -27, -7),
).properties(width=W2, height=H2)

# ---------------- panel f ----------------
Xf = xenc([159.7, 171.78], "Binding energy (eV)", list(range(160, 172)), 2)
Yf = yenc(740)
f_raw = table(("r", 0, F_RAW_X, lv(F_RAW_R, F_FLOOR)))
f_env = table(("e", 0, F_ENV_X, lv(F_ENV_R, F_FLOOR)))
f_comp = table(
    ("Sulfate", "su", F_SU_X, lv(F_SU_R, F_FLOOR)),
    ("Terminal S", "t1", F_T1_X, lv(F_T1_R, F_FLOOR)),
    ("Terminal S", "t2", F_T2_X, lv(F_T2_R, F_FLOOR)),
    ("Bridged S", "b1", F_B1_X, lv(F_B1_R, F_FLOOR)),
    ("Bridged S", "b2", F_B2_X, lv(F_B2_R, F_FLOOR)),
)
pf = alt.layer(
    trace(f_raw, Xf, Yf, INK, 3.0),
    trace(f_env, Xf, Yf, BLUE, 3.4),
    parts(f_comp, Xf, Yf, ["Terminal S", "Bridged S", "Sulfate"], [RED, YEL, TEAL], 227, 10),
    note("S 2p", 7, 28),
    tag("f", -17, -2),
).properties(width=W3, height=H2)

# ---------------- panel g ----------------
Xg = xenc([280.8, 292.22], "Binding energy (eV)", list(range(281, 293)), 2)
Yg = yenc(740)
g_raw = table(("r", 0, G_RAW_X, lv(G_RAW_R, G_FLOOR)))
g_env = table(("e", 0, G_ENV_X, lv(G_ENV_R, G_FLOOR)))
g_base = table(("b", 0, G_BASE_X, lv(G_BASE_R, G_FLOOR)))
g_comp = table(
    ("C-C", 0, G_CC_X, lv(G_CC_R, G_FLOOR)),
    ("C-O", 1, G_CO_X, lv(G_CO_R, G_FLOOR)),
    ("-C=O", 2, G_CEO_X, lv(G_CEO_R, G_FLOOR)),
)
pg = alt.layer(
    trace(g_raw, Xg, Yg, INK, 3.0),
    trace(g_base, Xg, Yg, LGRAY, 3.0),
    trace(g_env, Xg, Yg, BLUE, 3.4),
    parts(g_comp, Xg, Yg, ["C-C", "C-O", "-C=O"], [RED, YEL, TEAL], 264, 10),
    note("C 1s", 12, 23),
    tag("g", -35, -27),
).properties(width=W1, height=H3)

# ---------------- panel h ----------------
Xh = xenc([392.83, 410.88], "Binding energy (eV)",
          [393, 394.5, 396, 397.5, 399, 400.5, 402, 403.5, 405, 406.5, 408, 409.5], 3)
Yh = yenc(735)
h_raw = table(("r", 0, H_RAW_X, lv(H_RAW_R, H_FLOOR)))
h_env = table(("e", 0, H_ENV_X, lv(H_ENV_R, H_FLOOR)))
h_base = table(("b", 0, H_BASE_X, lv(H_BASE_R, H_FLOOR)))
h_comp = table(
    ("Pyrrolic N", 0, H_PYR_X, lv(H_PYR_R, H_FLOOR)),
    ("Pyridinic N", 1, H_PYD_X, lv(H_PYD_R, H_FLOOR)),
    ("Ti-N", 2, H_TIN_X, lv(H_TIN_R, H_FLOOR)),
)
ph = alt.layer(
    trace(h_raw, Xh, Yh, INK, 3.0, "linear"),
    trace(h_base, Xh, Yh, LGRAY, 3.0),
    trace(h_env, Xh, Yh, BLUE, 3.4),
    parts(h_comp, Xh, Yh, ["Pyrrolic N", "Pyridinic N", "Ti-N"], [RED, YEL, TEAL], 218, 12),
    note("N 1s", 11, 23),
    tag("h", -27, -20),
).properties(width=W2, height=H3)

# ---------------- panel i ----------------
Xi = xenc([500, 2500], "Wavenumber (cm⁻¹)",
          [500, 750, 1000, 1250, 1500, 1750, 2000, 2250, 2500], 500, reverse=True)
Yi = yenc(735, "Transmission (a.u.)")
bands = pd.DataFrame({"x": I_BAND_FROM, "x2": I_BAND_TO, "y": I_BAND_LOW, "y2": I_BAND_HIGH})
blue_fill = alt.Gradient(gradient="linear", x1=0, x2=0, y1=0, y2=1,
                         stops=[alt.GradientStop(color="rgba(120,160,225,0.08)", offset=0),
                                alt.GradientStop(color="rgba(90,140,215,0.65)", offset=1)])
orng_fill = alt.Gradient(gradient="linear", x1=0, x2=0, y1=0, y2=1,
                         stops=[alt.GradientStop(color="rgba(248,180,140,0.12)", offset=0),
                                alt.GradientStop(color="rgba(245,150,100,0.75)", offset=1)])
i_lines = table(
    ("PVP", "p", I_PVP_X, I_PVP_Y),
    ("MXene (PVP)", "r", I_RED_X, I_RED_Y),
    ("NiCo PBA@MXene (PVP)", "y", I_YEL_X, I_YEL_Y),
    ("MXene", "b", I_BLU_X, I_BLU_Y),
)
pi = alt.layer(
    alt.Chart(bands.iloc[[0]]).mark_rect(fill=blue_fill).encode(x=Xi, x2="x2:Q", y=Yi, y2="y2:Q"),
    alt.Chart(bands.iloc[[1]]).mark_rect(fill=orng_fill).encode(x=Xi, x2="x2:Q", y=Yi, y2="y2:Q"),
    parts(i_lines, Xi, Yi, ["MXene", "PVP", "NiCo PBA@MXene (PVP)", "MXene (PVP)"],
          [BLUE, TEAL, YEL, RED], 25, 8, width=2.4, interp="linear", columns=2),
    note("C=O", 132, 235, 16, "black", "center"),
    note("C-N", 231, 233, 16, "black", "center"),
    tag("i", -20, -13),
).properties(width=W3, height=H3)

chart = alt.concat(
    pa, pb, pc, pd_, pe, pf, pg, ph, pi,
    columns=3, spacing={"row": 57, "column": 43}, bounds="flush"
).resolve_scale(
    color="independent"
).properties(
    padding={"left": 2, "top": 3, "right": 5, "bottom": 5}
).configure(
    background="white"
).configure_view(
    stroke="black", strokeWidth=3
).configure_axis(
    labelFont=FONT, labelFontSize=15, labelFontWeight="bold", labelColor="black",
    titleFont=FONT, titleFontSize=16, titleFontWeight="bold", titleColor="black",
    tickColor="black", tickWidth=2, tickSize=4, labelPadding=3, domain=False, grid=False
).configure_legend(
    symbolType="M-2,0L2,0", symbolSize=225, symbolStrokeWidth=4,
    labelFont=FONT, labelFontSize=15, labelFontWeight="bold", labelColor="black",
    labelOffset=10, rowPadding=6, padding=0, labelLimit=400
)

chart.save("out.html", embed_options={"renderer": "svg", "actions": False})
